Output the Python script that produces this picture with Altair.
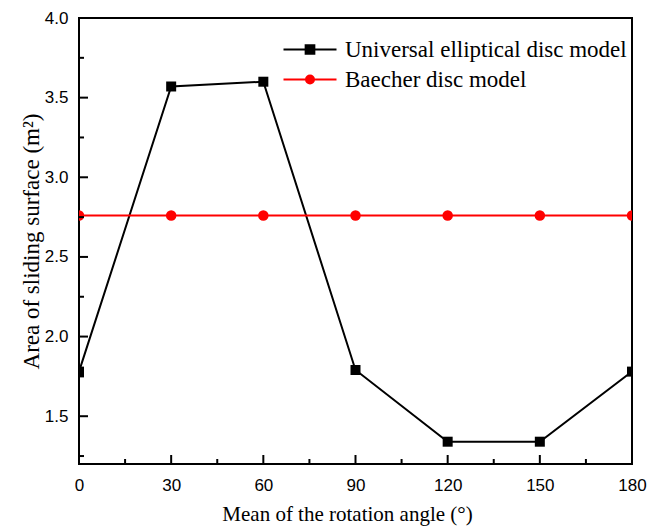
import altair as alt
import pandas as pd

# ---- data ----
angles = [0, 30, 60, 90, 120, 150, 180]
universal = [1.78, 3.57, 3.60, 1.79, 1.34, 1.34, 1.78]
baecher = [2.76, 2.76, 2.76, 2.76, 2.76, 2.76, 2.76]
series_names = ["Universal elliptical disc model", "Baecher disc model"]
series_colors = ["black", "red"]

x_major = [0, 30, 60, 90, 120, 150, 180]
x_minor = [15, 45, 75, 105, 135, 165]
y_major = [1.5, 2.0, 2.5, 3.0, 3.5, 4.0]
y_minor = [1.25, 1.75, 2.25, 2.75, 3.25, 3.75]

df_u = pd.DataFrame({"angle": angles, "value": universal, "series": series_names[0]})
df_b = pd.DataFrame({"angle": angles, "value": baecher, "series": series_names[1]})
df_all = pd.concat([df_u, df_b], ignore_index=True)

SANS = "Liberation Sans"
SERIF = "Liberation Serif"
W, H = 553, 446
TICK_COLOR = "black"

xscale = alt.Scale(domain=[0, 180], nice=False, zero=False)
yscale = alt.Scale(domain=[1.2, 4.0], nice=False, zero=False)

x_main_axis = alt.Axis(
    orient="bottom", values=x_major, domain=False, ticks=False, grid=False,
    labelFont=SANS, labelFontSize=17, labelColor="black", labelPadding=13, labelFlush=False,
    title="Mean of the rotation angle (°)", titleFont=SERIF, titleFontSize=21,
    titleFontWeight="normal", titleColor="black", titlePadding=10, titleX=268,
)
y_main_axis = alt.Axis(
    orient="left", values=y_major, format=".1f", domain=False, ticks=False, grid=False,
    labelFont=SANS, labelFontSize=17, labelColor="black", labelPadding=11, labelFlush=False,
    title="Area of sliding surface (m²)", titleFont=SERIF, titleFontSize=23,
    titleFontWeight="normal", titleColor="black", titlePadding=1,
)

# inward tick marks, positioned by the scales
df_xmaj = pd.DataFrame({"tx": x_major})
df_xmin = pd.DataFrame({"tx": x_minor})
df_ymaj = pd.DataFrame({"ty": y_major})
df_ymin = pd.DataFrame({"ty": y_minor})


def x_ticks(df, size):
    return alt.Chart(df).mark_rule(color=TICK_COLOR, strokeWidth=2).encode(
        x=alt.X("tx:Q", scale=xscale, axis=None),
        y=alt.value(H - size), y2=alt.value(H),
    )


def y_ticks(df, size):
    return alt.Chart(df).mark_rule(color=TICK_COLOR, strokeWidth=2).encode(
        y=alt.Y("ty:Q", scale=yscale, axis=None),
        x=alt.value(0), x2=alt.value(size),
    )


# data layers
line_u = alt.Chart(df_u).mark_line(color="black", strokeWidth=2, clip=True).encode(
    x=alt.X("angle:Q", scale=xscale, axis=x_main_axis),
    y=alt.Y("value:Q", scale=yscale, axis=y_main_axis),
)
pts_u = alt.Chart(df_u).mark_point(shape="square", filled=True, color="black", size=100, opacity=1, clip=True).encode(
    x=alt.X("angle:Q", scale=xscale, axis=None),
    y=alt.Y("value:Q", scale=yscale, axis=None),
)
line_b = alt.Chart(df_b).mark_line(color="red", strokeWidth=2, clip=True).encode(
    x=alt.X("angle:Q", scale=xscale, axis=None),
    y=alt.Y("value:Q", scale=yscale, axis=None),
)
pts_b = alt.Chart(df_b).mark_point(shape="circle", filled=True, color="red", size=110, opacity=1, clip=True).encode(
    x=alt.X("angle:Q", scale=xscale, axis=None),
    y=alt.Y("value:Q", scale=yscale, axis=None),
)

# legend layer (no marks drawn, only the legend)
sq_path = "M-5.3,0H5.3M-0.87,-0.87H0.87V0.87H-0.87Z"
ci_path = "M-5.3,0H5.3M-0.8,0A0.8,0.8,0,1,0,0.8,0A0.8,0.8,0,1,0,-0.8,0Z"
legend_obj = alt.Legend(
    orient="none", legendX=219.5, legendY=20, title=None, padding=0,
    labelFont=SERIF, labelFontSize=23, labelColor="black", labelLimit=0,
    labelOffset=23.5, rowPadding=6, symbolSize=100, symbolStrokeWidth=2,
)
color_scale = alt.Scale(domain=series_names, range=series_colors)
legend_layer = alt.Chart(df_all).transform_filter("false").mark_point(
    filled=True, size=100, strokeWidth=2, opacity=1
).encode(
    x=alt.X("angle:Q", scale=xscale, axis=None),
    y=alt.Y("value:Q", scale=yscale, axis=None),
    fill=alt.Fill("series:N", scale=color_scale, legend=legend_obj),
    stroke=alt.Stroke("series:N", scale=color_scale, legend=legend_obj),
    shape=alt.Shape("series:N", scale=alt.Scale(domain=series_names, range=[sq_path, ci_path]), legend=legend_obj),
)

chart = alt.layer(
    line_u, line_b, pts_b, pts_u, legend_layer,
    x_ticks(df_xmaj, 9), x_ticks(df_xmin, 5),
    y_ticks(df_ymaj, 9), y_ticks(df_ymin, 5),
).resolve_axis(x="independent", y="independent").properties(
    width=W, height=H,
    autosize=alt.AutoSizeParams(type="none"),
    padding={"left": 79, "top": 18, "right": 26, "bottom": 64},
    background="white",
).configure_view(stroke="black", strokeWidth=2)

chart.save("out.html", embed_options={"renderer": "svg", "actions": False})
